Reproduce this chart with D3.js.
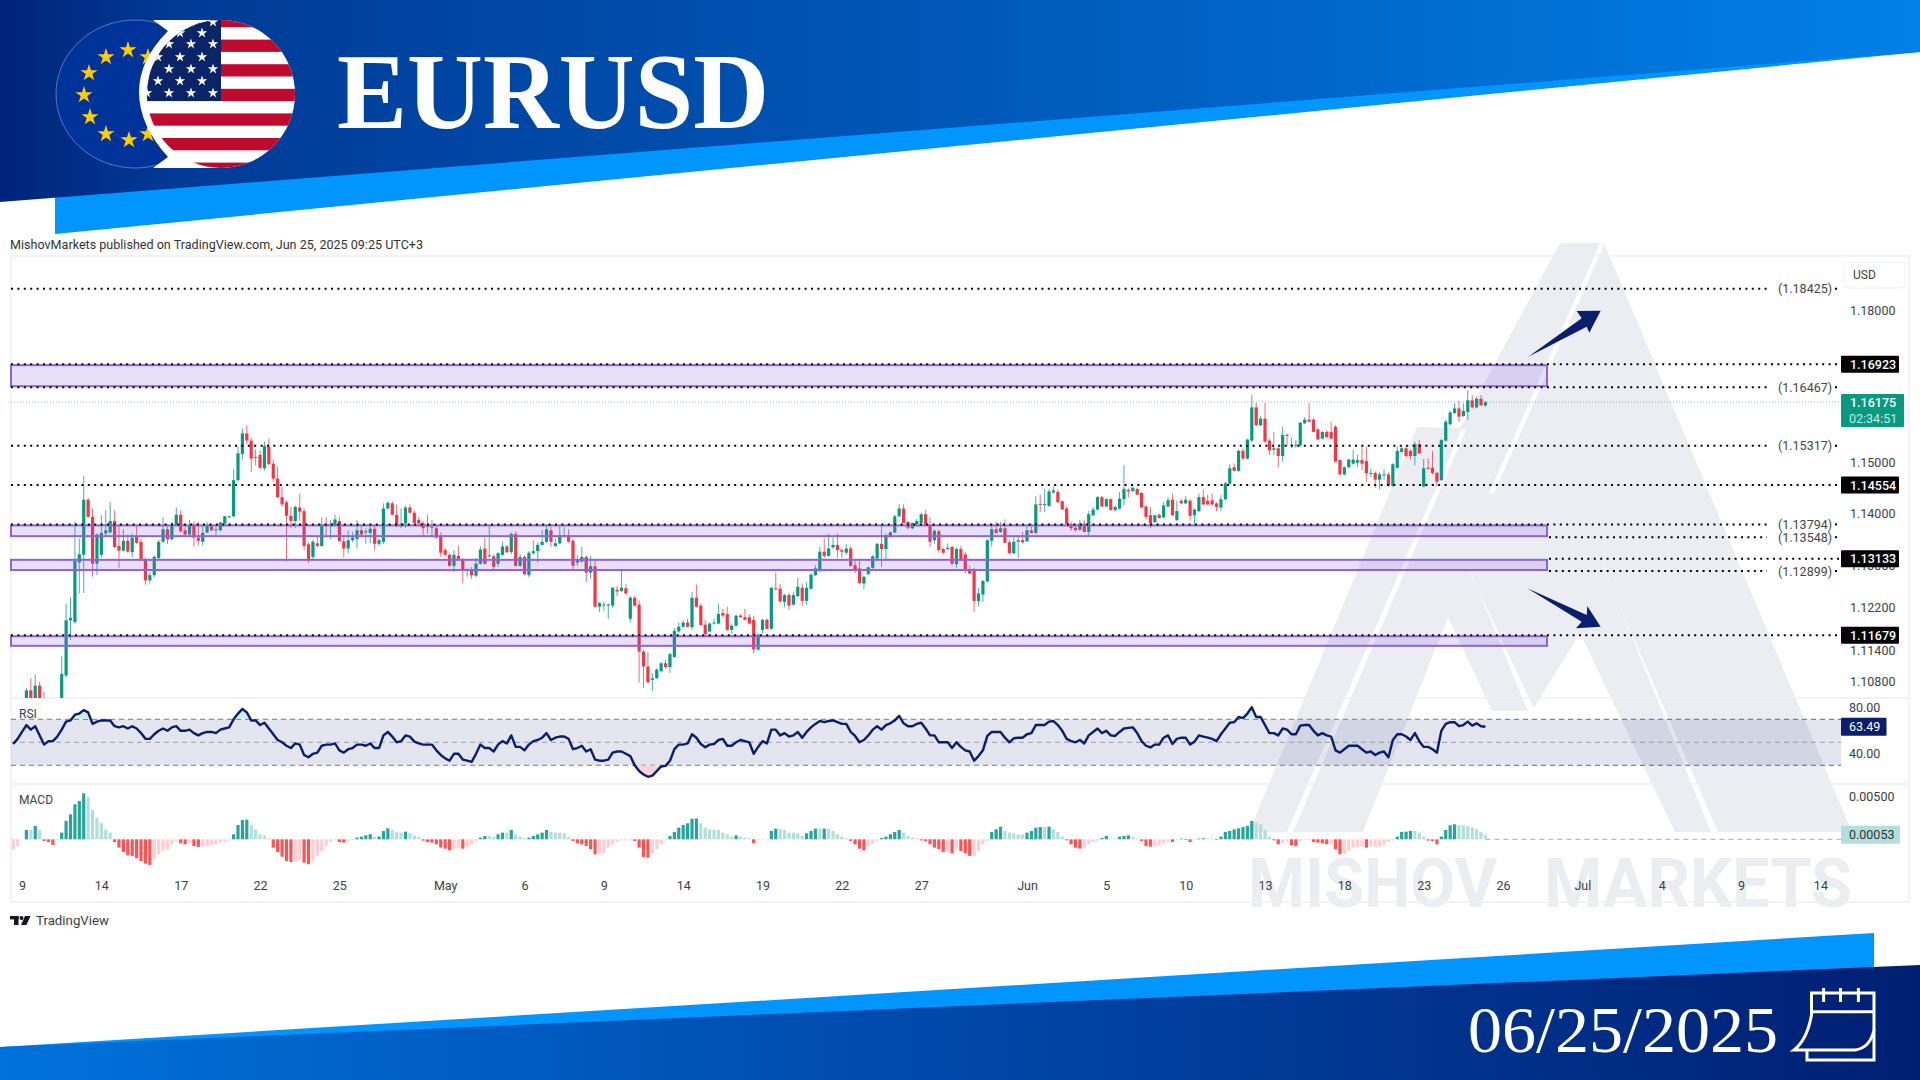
<!DOCTYPE html>
<html>
<head>
<meta charset="utf-8">
<style>
  body { margin: 0; background: #fff; }
  text { font-family: Roboto, sans-serif; }
  .serif { font-family: "Liberation Serif", serif; }
  .axis path, .axis line { display: none; }
  .axis text { font-family: Roboto, sans-serif; font-size: 12.5px; fill: #3a3d47; }
</style>
<script src="https://cdn.jsdelivr.net/npm/d3@7"></script>
</head>
<body>
<div id="visualization"></div>
<script>
// candle prices, in units of 0.0001
const opens = [
10990,10985,11005,11035,11064,11040,11073,11045,11010,11005,
11015,11030,11092,11196,11193,11306,11321,11427,11394,11304,
11321,11362,11364,11386,11338,11329,11348,11326,11356,11346,
11312,11272,11282,11315,11346,11370,11351,11378,11398,11368,
11360,11379,11354,11346,11364,11376,11368,11368,11381,11393,
11395,11465,11516,11556,11542,11508,11514,11488,11530,11497,
11468,11432,11422,11396,11386,11412,11405,11341,11317,11343,
11338,11380,11376,11378,11386,11347,11333,11349,11351,11368,
11364,11363,11371,11342,11346,11410,11420,11398,11376,11381,
11412,11402,11388,11382,11377,11373,11372,11356,11330,11321,
11300,11319,11311,11290,11290,11281,11304,11333,11318,11318,
11304,11321,11337,11326,11361,11300,11317,11282,11324,11328,
11340,11346,11368,11338,11343,11357,11359,11348,11306,11308,
11317,11287,11299,11222,11225,11225,11224,11254,11252,11257,
11199,11239,11226,11137,11109,11084,11087,11100,11115,11108,
11127,11175,11184,11192,11183,11239,11224,11188,11175,11191,
11190,11210,11208,11178,11186,11205,11202,11202,11197,11141,
11178,11197,11180,11257,11256,11231,11244,11226,11242,11258,
11233,11256,11282,11293,11327,11319,11335,11340,11330,11325,
11333,11301,11295,11266,11284,11296,11314,11342,11332,11356,
11364,11395,11410,11384,11372,11380,11382,11399,11378,11349,
11366,11332,11332,11336,11303,11332,11322,11293,11293,11233,
11245,11270,11348,11370,11365,11372,11345,11324,11346,11349,
11347,11368,11363,11419,11417,11415,11441,11442,11424,11410,
11380,11373,11369,11381,11365,11397,11408,11432,11414,11428,
11407,11410,11428,11446,11444,11448,11440,11414,11397,11384,
11398,11393,11414,11427,11388,11425,11420,11425,11397,11405,
11432,11425,11426,11420,11412,11428,11458,11490,11483,11522,
11507,11542,11607,11572,11585,11542,11524,11527,11512,11553,
11532,11532,11533,11576,11583,11583,11564,11546,11559,11559,
11569,11504,11476,11490,11497,11499,11504,11502,11477,11479,
11466,11474,11476,11454,11489,11520,11527,11522,11512,11535,
11453,11489,11489,11479,11465,11542,11574,11596,11605,11590,
11598,11621,11607,11624,11611];
const highs = [
11010,11015,11030,11068,11087,11094,11080,11061,11030,11025,
11040,11128,11228,11240,11384,11352,11473,11430,11410,11362,
11397,11407,11423,11407,11378,11370,11360,11362,11378,11352,
11316,11288,11320,11350,11393,11378,11384,11412,11407,11375,
11388,11385,11384,11378,11384,11380,11376,11384,11396,11396,
11486,11531,11566,11572,11548,11525,11523,11540,11546,11505,
11491,11453,11426,11413,11416,11439,11410,11345,11350,11357,
11393,11394,11388,11398,11394,11359,11368,11365,11388,11378,
11372,11378,11378,11352,11420,11424,11424,11418,11410,11415,
11418,11406,11394,11386,11397,11388,11376,11364,11334,11324,
11330,11339,11315,11295,11298,11314,11337,11354,11380,11322,
11326,11346,11340,11364,11366,11322,11320,11328,11349,11345,
11368,11380,11375,11352,11378,11375,11370,11352,11320,11336,
11320,11319,11314,11231,11232,11228,11260,11261,11293,11265,
11242,11242,11234,11140,11136,11097,11106,11118,11122,11135,
11182,11192,11196,11199,11250,11264,11228,11196,11192,11199,
11228,11218,11222,11188,11206,11208,11218,11208,11205,11172,
11199,11200,11260,11287,11265,11246,11248,11250,11277,11266,
11269,11286,11301,11336,11352,11362,11354,11362,11333,11342,
11337,11310,11309,11281,11298,11320,11344,11376,11362,11366,
11398,11418,11418,11386,11383,11390,11401,11407,11393,11370,
11370,11335,11343,11338,11335,11338,11326,11300,11296,11257,
11272,11351,11380,11384,11384,11389,11349,11356,11356,11365,
11380,11381,11434,11437,11448,11448,11453,11446,11426,11414,
11384,11376,11388,11388,11405,11413,11434,11434,11430,11430,
11416,11442,11494,11449,11455,11451,11442,11416,11413,11398,
11400,11423,11432,11439,11425,11429,11434,11429,11410,11439,
11447,11437,11439,11422,11436,11462,11496,11497,11525,11527,
11546,11631,11616,11590,11616,11546,11559,11530,11569,11556,
11548,11543,11579,11588,11616,11586,11566,11560,11562,11579,
11572,11506,11492,11506,11524,11514,11530,11530,11488,11482,
11480,11486,11480,11498,11531,11530,11532,11525,11540,11543,
11506,11507,11522,11481,11545,11582,11600,11615,11620,11615,
11641,11631,11628,11631,11620];
const lows = [
10975,10975,10995,11025,11030,11030,11035,11000,10995,10990,
11005,11025,11088,11159,11189,11247,11248,11392,11279,11282,
11315,11355,11362,11334,11296,11327,11325,11316,11342,11309,
11264,11266,11278,11312,11344,11342,11349,11376,11364,11356,
11358,11337,11339,11339,11362,11366,11359,11366,11380,11392,
11394,11462,11505,11535,11481,11494,11487,11484,11494,11462,
11430,11414,11308,11372,11372,11386,11330,11305,11312,11334,
11336,11359,11351,11376,11347,11316,11324,11345,11333,11358,
11342,11343,11331,11338,11342,11408,11396,11374,11372,11373,
11400,11380,11378,11356,11362,11354,11352,11317,11318,11298,
11288,11310,11266,11279,11275,11278,11302,11302,11315,11292,
11298,11319,11324,11322,11298,11298,11282,11278,11322,11306,
11338,11344,11337,11336,11341,11355,11344,11292,11300,11306,
11269,11275,11220,11212,11214,11199,11220,11242,11250,11245,
11192,11222,11079,11069,11079,11063,11085,11098,11105,11097,
11125,11173,11182,11183,11178,11220,11186,11165,11173,11188,
11188,11202,11176,11171,11184,11201,11196,11188,11133,11138,
11171,11180,11178,11253,11230,11221,11216,11224,11240,11223,
11225,11254,11280,11288,11315,11317,11333,11315,11315,11321,
11298,11286,11265,11255,11282,11294,11312,11298,11311,11354,
11362,11393,11382,11370,11370,11378,11380,11376,11336,11342,
11325,11322,11329,11301,11296,11310,11285,11284,11212,11223,
11231,11268,11337,11362,11363,11344,11322,11322,11315,11343,
11345,11362,11361,11403,11403,11413,11439,11422,11408,11380,
11367,11366,11367,11364,11356,11395,11406,11413,11412,11406,
11404,11408,11416,11431,11442,11436,11411,11389,11372,11382,
11390,11391,11412,11396,11385,11418,11418,11386,11375,11403,
11416,11416,11416,11405,11405,11426,11456,11482,11481,11505,
11505,11538,11570,11570,11538,11514,11514,11490,11501,11531,
11527,11527,11531,11574,11578,11558,11543,11544,11547,11544,
11500,11475,11474,11488,11495,11490,11484,11462,11471,11450,
11447,11466,11453,11452,11487,11518,11510,11505,11494,11516,
11451,11485,11476,11453,11463,11540,11572,11594,11579,11588,
11582,11605,11605,11610,11608];
const closes = [
10985,11005,11020,11064,11040,11073,11045,11010,11005,11015,
11030,11095,11196,11201,11309,11322,11427,11394,11304,11360,
11363,11368,11386,11336,11329,11348,11327,11354,11344,11311,
11272,11282,11317,11346,11370,11351,11378,11398,11366,11360,
11378,11354,11348,11363,11378,11368,11370,11383,11395,11395,
11465,11517,11556,11542,11507,11510,11489,11531,11496,11468,
11432,11418,11396,11386,11413,11404,11338,11312,11346,11338,
11379,11376,11380,11389,11347,11333,11349,11354,11368,11360,
11366,11371,11342,11349,11410,11421,11398,11376,11381,11412,
11402,11382,11381,11372,11375,11375,11354,11325,11321,11300,
11321,11312,11290,11292,11282,11304,11331,11304,11320,11298,
11324,11337,11326,11361,11300,11317,11284,11325,11328,11340,
11346,11370,11346,11343,11358,11358,11346,11300,11312,11317,
11287,11299,11222,11229,11226,11226,11258,11251,11258,11247,
11239,11224,11137,11109,11079,11087,11103,11115,11108,11132,
11176,11184,11192,11184,11239,11222,11187,11170,11190,11192,
11208,11205,11178,11186,11205,11202,11197,11190,11141,11169,
11197,11180,11258,11255,11232,11244,11224,11244,11260,11233,
11258,11283,11295,11327,11319,11333,11340,11330,11327,11333,
11300,11293,11267,11279,11297,11318,11342,11332,11359,11364,
11395,11410,11382,11373,11382,11386,11399,11378,11346,11367,
11330,11325,11334,11304,11332,11310,11290,11285,11233,11247,
11271,11349,11370,11363,11372,11344,11324,11346,11349,11345,
11368,11363,11418,11417,11419,11443,11445,11422,11408,11380,
11372,11368,11381,11365,11399,11408,11432,11414,11428,11407,
11413,11429,11448,11443,11450,11437,11412,11394,11381,11397,
11392,11416,11426,11397,11405,11420,11427,11396,11408,11432,
11418,11418,11418,11413,11428,11459,11488,11483,11522,11507,
11544,11607,11572,11585,11540,11523,11527,11512,11553,11551,
11534,11534,11577,11583,11579,11559,11544,11559,11549,11546,
11501,11476,11490,11505,11505,11504,11497,11478,11479,11466,
11476,11476,11454,11496,11522,11527,11512,11512,11535,11517,
11488,11487,11479,11462,11543,11579,11597,11605,11589,11600,
11621,11607,11624,11611,11617];

const rsi = [
48.5,53,59,65,61,64,56,48,51,51,
55,61,68,69,74,75,78,76,66,68,
69,69,69,64,63,64,62,64,62,58,
53,53,57,60,62,60,63,64,60,60,
61,58,56,58,59,59,58,61,62,63,
70,75,79,76,69,69,65,67,62,57,
52,50,47,45,49,48,39,37,40,41,
47,48,48,49,43,41,44,45,48,48,
47,49,45,45,56,59,55,50,51,56,
55,50.6,49,48,48,48,43,39,36,34,
40,40,35,34,33,40,48,45,45,42,
48,51,49,56,46,46,43,48,51,52,
54,58,52,54,55,55,53,44,45,47,
42,44,35,34,34,35,41,42,42,40,
38,30,25,22,20,21,25,29,29.5,34,
44,48,48,49,57,54,48.5,45.7,48,48.5,
52,53,47,47,50,52,51,50,40,46,
51,49,61,61,56,58,55,56,59,54,
59,63,66,68.5,67.5,68.5,69,67.5,66,66,
59,55.5,50,52,56,61,64,61,65,66.5,
69,73,66.5,64,64,66,67,62,56,56,
50,50,50,45,50,46,43,42,34,38,
43,55.5,59,59,59,54,50,53.5,54,54,
57,58,65,65,65,68,68.5,65,60,53,
51,50,52,49,56,59,62,58,60,56,
55.5,59,62,62.5,63,58,51,47,45.5,48,
48,54,56,48.5,53,54,54,48,50.5,56,
55,54,53,51,57,62,67,67.5,72,71,
75,80.5,72,72,65,58,58,56,62,61,
57,57,64.5,65,65,60,56,58,56,55,
43,41,44,47,47,47,44,41,42,39,
41,42,37,52,57,57,55,52,58,51,
46,46,44,41,60,66,67.5,67.5,64,65,
68,64.5,66.5,64,63.49];

// MACD histogram, in units of 0.00001
const macdHist = [
-115,-77,0,108,108,154,108,-19,-31,-65,
-12,77,212,288,404,442,531,492,338,250,
185,115,77,-31,-96,-146,-185,-192,-219,-250,
-281,-296,-231,-173,-135,-115,-58,-19,-46,-58,
-38,-77,-88,-85,-77,-69,-58,-38,-31,-15,
58,165,223,227,165,115,58,46,12,-96,
-146,-200,-250,-262,-258,-231,-269,-288,-250,-192,
-135,-77,-31,-12,-31,-38,-19,-8,19,31,
46,58,31,32,96,127,108,85,77,88,
69,46,27,-15,-31,-38,-58,-96,-108,-127,
-108,-96,-108,-85,-58,-19,19,38,38,27,
58,77,77,108,58,31,12,19,38,58,
77,108,85,77,77,69,31,-19,-46,-58,
-77,-115,-173,-173,-162,-96,-58,-31,-12,-12,
-12,-19,-96,-204,-212,-162,-115,-58,-12,38,
85,135,165,185,238,240,185,135,115,108,
108,77,58,31,46,31,19,12,-46,-8,
-8,-4,96,123,115,108,77,77,69,38,
69,96,123,123,124,123,96,58,31,12,
-19,-58,-108,-127,-77,-46,-19,15,31,58,
85,108,77,38,19,12,-12,-19,-58,-96,
-115,-146,-146,-162,-115,-135,-162,-192,-192,-135,
-58,-19,85,115,146,96,77,69,58,58,
77,96,135,142,142,146,115,85,31,-12,
-58,-96,-108,-96,-58,-31,-12,15,38,8,
8,31,38,46,31,8,-19,-77,-85,-85,
-69,-46,-19,-31,-8,8,-8,-31,-8,8,
12,8,8,-8,31,85,96,115,127,142,
154,212,192,173,108,31,-12,-58,-46,-19,
-69,-77,-19,-8,-8,-31,-38,-46,-58,-58,
-115,-173,-173,-135,-96,-85,-85,-96,-85,-85,
-85,-69,-31,-12,31,85,88,96,96,77,
31,-15,-19,-58,31,108,162,173,162,161,
154,135,115,85,53];

const dateTicks = [2,20,38,56,74,98,116,134,152,170,188,206,230,248,266,284,302,320,338,356,374,392,410];
const dateLabels = ["9","14","17","22","25","May","6","9","14","19","22","27","Jun","5","10","13","18","23","26","Jul","4","9","14"];
const priceTicks = [1.18,1.15,1.14,1.13,1.122,1.114,1.108];
const boxedLevels = [1.16923,1.14554,1.13133,1.11679];
const plainLevels = [1.18425,1.16467,1.15317,1.13794,1.13548,1.12899];
// these three levels only show to the right of their zone
const levelsFromZoneEnd = [1.13548,1.13133,1.12899];
const zoneTops = [1.16923,1.13794,1.13133,1.11679];
const zoneBottoms = [1.16467,1.13548,1.12899,1.1146];
const lastPrice = 1.16175;

const n = closes.length;
const bars = closes.map((c, i) => ({
  i, o: opens[i] / 1e4, h: highs[i] / 1e4, l: lows[i] / 1e4, c: c / 1e4
}));

const svg = d3.select("#visualization").append("svg")
  .attr("width", 1920).attr("height", 1080)
  .style("display", "block");
const defs = svg.append("defs");

const frame = {left: 11, right: 1909, top: 256, priceBottom: 698, rsiBottom: 784, bottom: 902, plotRight: 1841};
const x = d3.scaleLinear().domain([0, 410]).range([13.2, 1820.4]);
const y = d3.scaleLog().domain([1.18, 1.114]).range([310, 650]);
const yRsi = d3.scaleLinear().domain([70, 30]).range([719.3, 765.3]);
const yMacd = d3.scaleLinear().domain([0, 0.005]).range([839.3, 796]);

function gradient(id, stops) {
  const g = defs.append("linearGradient").attr("id", id)
    .attr("x1", "0").attr("x2", "1").attr("y1", "0").attr("y2", "0");
  stops.forEach(s => g.append("stop").attr("offset", s[0]).attr("stop-color", s[1]));
}
gradient("topBlue", [[0, "#00237a"], [0.09, "#003a96"], [0.5, "#0058b8"], [1, "#0080e8"]]);
gradient("bottomBlue", [[0, "#0072dc"], [0.6, "#003f9e"], [1, "#001f72"]]);

function poly(points, fill) {
  return svg.append("polygon").attr("points", points.map(p => p.join(",")).join(" ")).attr("fill", fill);
}

// banners
poly([[55,190],[1920,45],[1920,52],[55,234]], "#0095ff");
poly([[0,0],[1920,0],[1920,52],[0,202]], "url(#topBlue)");
poly([[0,1047],[1874,933],[1874,1000],[0,1060]], "#0095ff");
poly([[0,1047],[1920,965],[1920,1080],[0,1080]], "url(#bottomBlue)");

// flags
svg.append("ellipse").attr("cx", 135).attr("cy", 94).attr("rx", 79).attr("ry", 74)
  .attr("fill", "#003399").attr("stroke", "#8fa8d8").attr("stroke-width", 0.6);
const euStars = [[128,50],[106,57],[89,73],[84,95],[90,117],[106,134],[129,140],[148,134],[148,57]];
svg.selectAll(".eustar").data(euStars).join("path")
  .attr("d", d3.symbol(d3.symbolStar, 90))
  .attr("transform", d => `translate(${d[0]},${d[1]})`)
  .attr("fill", "#ffcc00");
svg.append("path").attr("d", "M153,20 H221 V168 H153 L168,157 Q139,125 139,92 Q139,60 168,31 Z").attr("fill", "#fff");
defs.append("clipPath").attr("id", "usClip").append("ellipse")
  .attr("cx", 221).attr("cy", 94).attr("rx", 74).attr("ry", 74);
const us = svg.append("g").attr("clip-path", "url(#usClip)");
us.append("rect").attr("x", 140).attr("y", 20).attr("width", 160).attr("height", 150).attr("fill", "#fff");
us.selectAll("rect.stripe").data(d3.range(7)).join("rect").attr("class", "stripe")
  .attr("x", 140).attr("width", 160).attr("height", 12.3)
  .attr("y", d => 15 + d * 24.6).attr("fill", "#bf0a30");
us.append("rect").attr("x", 140).attr("y", 15).attr("width", 81).attr("height", 86).attr("fill", "#0a2468");
const usStarRows = [22,33,44,57,69,81,93];
usStarRows.forEach((row, r) => {
  d3.range(4).forEach(c => {
    us.append("path").attr("d", d3.symbol(d3.symbolStar, 34))
      .attr("transform", `translate(${(r % 2 ? 202 : 213) - c * 22},${row})`).attr("fill", "#fff");
  });
});

svg.append("text").attr("class", "serif").attr("x", 337).attr("y", 128)
  .attr("textLength", 432).attr("lengthAdjust", "spacingAndGlyphs")
  .attr("font-size", 108).attr("font-weight", 700).attr("fill", "#fff").text("EURUSD");

svg.append("text").attr("class", "serif").attr("x", 1468).attr("y", 1052)
  .attr("textLength", 310).attr("lengthAdjust", "spacingAndGlyphs")
  .attr("font-size", 66).attr("fill", "#fff").text("06/25/2025");

// calendar icon
const cal = svg.append("g").attr("fill", "none").attr("stroke", "#fff").attr("stroke-width", 3);
cal.append("path").attr("d", "M1811.5,993 H1874 V1030 Q1870,1048 1855,1050 H1794 Q1807,1040 1811.5,1015 Z");
cal.append("path").attr("d", "M1807,1050 V1060 H1874 V1030");
cal.append("path").attr("d", "M1811.5,1011.7 H1874");
cal.append("path").attr("d", "M1823.6,988 V1002 M1840.5,988 V1002 M1858.4,988 V1002");

svg.append("text").attr("x", 10).attr("y", 249).attr("font-size", 13)
  .attr("textLength", 413).attr("lengthAdjust", "spacingAndGlyphs").attr("fill", "#333")
  .text("MishovMarkets published on TradingView.com, Jun 25, 2025 09:25 UTC+3");

// watermark
const wmColor = "#ebedf2";
poly([[1417,427],[1460,428],[1560,243],[1604,243],[1852,832],[1675,832],[1580,633],[1532,711],[1492,711],[1448,617],[1363,832],[1249,832]], wmColor);
poly([[1462,428],[1466,430],[1293,832],[1287,832]], "#fff");
poly([[1600,243],[1604,245],[1494,493],[1489,493]], "#fff");
poly([[1468,565],[1470,572],[1535,711],[1528,711]], "#fff");
poly([[1602,563],[1604,570],[1718,832],[1711,832]], "#fff");
svg.append("text").attr("x", 1248).attr("y", 907).attr("font-size", 68).attr("font-weight", 700)
  .attr("textLength", 249).attr("lengthAdjust", "spacingAndGlyphs").attr("fill", wmColor).text("MISHOV");
svg.append("text").attr("x", 1544).attr("y", 907).attr("font-size", 68).attr("font-weight", 700)
  .attr("textLength", 308).attr("lengthAdjust", "spacingAndGlyphs").attr("fill", wmColor).text("MARKETS");

// chart frame
const frameColor = "#eeeff2";
svg.append("rect").attr("x", frame.left).attr("y", frame.top)
  .attr("width", frame.right - frame.left).attr("height", frame.bottom - frame.top)
  .attr("fill", "none").attr("stroke", frameColor).attr("stroke-width", 1.5);
[frame.priceBottom, frame.rsiBottom].forEach(v => svg.append("line")
  .attr("x1", frame.left).attr("x2", frame.right).attr("y1", v).attr("y2", v)
  .attr("stroke", frameColor).attr("stroke-width", 1.5));

// price pane
defs.append("clipPath").attr("id", "priceClip").append("rect")
  .attr("x", frame.left).attr("y", frame.top)
  .attr("width", frame.plotRight - frame.left).attr("height", frame.priceBottom - frame.top);
const up = "#089981", down = "#f23645";
const price = svg.append("g").attr("clip-path", "url(#priceClip)");
price.selectAll("line.wick").data(bars).join("line").attr("class", "wick")
  .attr("x1", d => x(d.i)).attr("x2", d => x(d.i))
  .attr("y1", d => y(d.h)).attr("y2", d => y(d.l))
  .attr("stroke", d => d.c >= d.o ? up : down).attr("stroke-width", 1).attr("stroke-opacity", 0.75);
price.selectAll("rect.body").data(bars).join("rect").attr("class", "body")
  .attr("x", d => x(d.i) - 1.6).attr("width", 3.2)
  .attr("y", d => y(Math.max(d.o, d.c)))
  .attr("height", d => Math.max(1, Math.abs(y(d.o) - y(d.c))))
  .attr("fill", d => d.c >= d.o ? up : down);

// last price line
svg.append("line").attr("x1", frame.left).attr("x2", frame.plotRight)
  .attr("y1", y(lastPrice)).attr("y2", y(lastPrice))
  .attr("stroke", up).attr("stroke-opacity", 0.55).attr("stroke-width", 1).attr("stroke-dasharray", "1 2");

// zones
const zoneRight = 1547;
svg.selectAll("rect.zone").data(zoneTops).join("rect").attr("class", "zone")
  .attr("x", frame.left).attr("width", zoneRight - frame.left)
  .attr("y", d => y(d) + 1).attr("height", (d, i) => y(zoneBottoms[i]) - y(d) - 2)
  .attr("fill", "rgb(130,80,220)").attr("fill-opacity", 0.18)
  .attr("stroke", "#8f63d4").attr("stroke-width", 2);

// level lines
const dotted = sel => sel.attr("stroke", "#000").attr("stroke-width", 2).attr("stroke-dasharray", "2 4.4");
const levelStart = d => levelsFromZoneEnd.includes(d) ? zoneRight + 2 : frame.left;
svg.selectAll("line.boxed").data(boxedLevels).join("line").attr("class", "boxed")
  .attr("x1", levelStart).attr("x2", frame.plotRight)
  .attr("y1", d => y(d)).attr("y2", d => y(d)).call(dotted);
svg.selectAll("line.plain").data(plainLevels).join("line").attr("class", "plain")
  .attr("x1", levelStart).attr("x2", 1767)
  .attr("y1", d => y(d)).attr("y2", d => y(d)).call(dotted);
svg.selectAll("rect.plaindot").data(plainLevels).join("rect").attr("class", "plaindot")
  .attr("x", 1835).attr("width", 2).attr("height", 2).attr("y", d => y(d) - 1).attr("fill", "#000");
svg.selectAll("text.plainlabel").data(plainLevels).join("text").attr("class", "plainlabel")
  .attr("x", 1778).attr("y", d => y(d)).attr("dy", "0.36em")
  .attr("font-size", 12.5).attr("fill", "#444").text(d => "(" + d.toFixed(5) + ")");

// arrows
const navy = "#0a1f6b";
poly([[1528.3,356.7],[1581.7,318.3],[1576.7,311],[1600.7,310.7],[1589.3,332.7],[1586.7,326.7]], navy);
poly([[1527.3,588.3],[1586.7,615],[1587.3,606],[1600.7,626.7],[1576,628.3],[1581.7,621.7]], navy);

// price axis
svg.append("g").attr("class", "axis").attr("transform", "translate(1850,0)")
  .call(d3.axisRight(y).tickValues(priceTicks).tickSize(0).tickPadding(0).tickFormat(d3.format(".5f")));

// boxes on the price axis
svg.selectAll("rect.levelbox").data(boxedLevels).join("rect").attr("class", "levelbox")
  .attr("x", frame.plotRight).attr("width", 58).attr("height", 17).attr("rx", 1)
  .attr("y", d => y(d) - 8.5).attr("fill", "#000");
svg.selectAll("text.levelbox").data(boxedLevels).join("text").attr("class", "levelbox")
  .attr("x", 1850).attr("y", d => y(d)).attr("dy", "0.36em")
  .attr("font-size", 12.5).attr("font-weight", 500).attr("fill", "#fff").text(d => d.toFixed(5));
svg.append("rect").attr("x", frame.plotRight).attr("y", 394).attr("width", 63).attr("height", 33).attr("rx", 1).attr("fill", up);
svg.append("text").attr("x", 1850).attr("y", y(lastPrice)).attr("dy", "0.36em")
  .attr("font-size", 12.5).attr("font-weight", 500).attr("fill", "#fff").text(lastPrice.toFixed(5));
svg.append("text").attr("x", 1849).attr("y", 418).attr("dy", "0.36em")
  .attr("font-size", 12.5).attr("fill", "#c5eae2").text("02:34:51");
svg.append("rect").attr("x", 1844).attr("y", 262).attr("width", 61).attr("height", 26).attr("rx", 4)
  .attr("fill", "#fff").attr("stroke", "#f0f1f4");
svg.append("text").attr("x", 1853).attr("y", 275).attr("dy", "0.36em")
  .attr("font-size", 12).attr("fill", "#3a3d47").text("USD");

// RSI pane
svg.append("rect").attr("x", frame.left).attr("width", frame.plotRight - frame.left)
  .attr("y", yRsi(70)).attr("height", yRsi(30) - yRsi(70))
  .attr("fill", "rgb(33,40,120)").attr("fill-opacity", 0.12);
[70, 50, 30].forEach(v => svg.append("line")
  .attr("x1", frame.left).attr("x2", frame.plotRight).attr("y1", yRsi(v)).attr("y2", yRsi(v))
  .attr("stroke", v === 50 ? "#9a9ca6" : "#666a75").attr("stroke-width", 1).attr("stroke-dasharray", "5 4"));

defs.append("clipPath").attr("id", "overClip").append("rect")
  .attr("x", frame.left).attr("y", frame.priceBottom).attr("width", 1830).attr("height", yRsi(70) - frame.priceBottom);
defs.append("clipPath").attr("id", "underClip").append("rect")
  .attr("x", frame.left).attr("y", yRsi(30)).attr("width", 1830).attr("height", frame.rsiBottom - yRsi(30));
const rsiX = (d, i) => x(i);
svg.append("path").datum(rsi).attr("clip-path", "url(#overClip)").attr("fill", "#cfeee6")
  .attr("d", d3.area().x(rsiX).y0(yRsi(70)).y1(d => yRsi(d)));
svg.append("path").datum(rsi).attr("clip-path", "url(#underClip)").attr("fill", "#fbd5da")
  .attr("d", d3.area().x(rsiX).y0(yRsi(30)).y1(d => yRsi(d)));
svg.append("path").datum(rsi).attr("fill", "none").attr("stroke", navy).attr("stroke-width", 2.4)
  .attr("stroke-linejoin", "round")
  .attr("d", d3.line().x(rsiX).y(d => yRsi(d)));

svg.append("g").attr("class", "axis").attr("transform", "translate(1849,0)")
  .call(d3.axisRight(yRsi).tickValues([80, 40]).tickSize(0).tickPadding(0).tickFormat(d3.format(".2f")));
svg.append("rect").attr("x", frame.plotRight).attr("width", 45.5).attr("height", 18)
  .attr("y", yRsi(rsi[n - 1]) - 9).attr("rx", 1).attr("fill", navy);
svg.append("text").attr("x", 1849).attr("y", yRsi(rsi[n - 1])).attr("dy", "0.36em")
  .attr("font-size", 12.5).attr("fill", "#fff").text(rsi[n - 1].toFixed(2));
svg.append("text").attr("x", 19).attr("y", 718).attr("font-size", 12).attr("fill", "#3a3d47").text("RSI");

// MACD pane
svg.append("line").attr("x1", x(n - 1)).attr("x2", frame.plotRight)
  .attr("y1", yMacd(0)).attr("y2", yMacd(0))
  .attr("stroke", "#a8abb3").attr("stroke-width", 1).attr("stroke-dasharray", "5 4");
const histColor = (v, i) => {
  const prev = i ? macdHist[i - 1] : v;
  if (v >= 0) return v > prev ? "#26a69a" : "#b2dfdb";
  return v < prev ? "#ff5252" : "#ffcdd2";
};
svg.selectAll("rect.hist").data(macdHist).join("rect").attr("class", "hist")
  .attr("x", (d, i) => x(i) - 1.6).attr("width", 3.2)
  .attr("y", d => yMacd(Math.max(0, d / 1e5)))
  .attr("height", d => Math.abs(yMacd(d / 1e5) - yMacd(0)))
  .attr("fill", histColor);
svg.append("g").attr("class", "axis").attr("transform", "translate(1849,0)")
  .call(d3.axisRight(yMacd).tickValues([0.005]).tickSize(0).tickPadding(0).tickFormat(d3.format(".5f")));
const lastMacd = macdHist[n - 1] / 1e5;
svg.append("rect").attr("x", frame.plotRight).attr("width", 59).attr("height", 18)
  .attr("y", yMacd(lastMacd) - 9).attr("rx", 1).attr("fill", "#b2dfdb");
svg.append("text").attr("x", 1849).attr("y", yMacd(lastMacd)).attr("dy", "0.36em")
  .attr("font-size", 12.5).attr("fill", "#333").text(lastMacd.toFixed(5));
svg.append("text").attr("x", 19).attr("y", 804).attr("font-size", 12).attr("fill", "#3a3d47").text("MACD");

// time axis
svg.append("g").attr("class", "axis").attr("transform", "translate(0,875)")
  .call(d3.axisBottom(x).tickValues(dateTicks).tickSize(0).tickPadding(6)
    .tickFormat((d, i) => dateLabels[i]));

// TradingView mark
const tv = svg.append("g").attr("fill", "#131722");
tv.append("rect").attr("x", 10).attr("y", 916).attr("width", 8.5).attr("height", 3.4);
tv.append("rect").attr("x", 14).attr("y", 916).attr("width", 4.5).attr("height", 9);
tv.append("circle").attr("cx", 21.5).attr("cy", 918).attr("r", 2);
tv.append("polygon").attr("points", "25,916 30.5,916 26.5,925 21,925");
svg.append("text").attr("x", 36).attr("y", 925).attr("font-size", 13.5)
  .attr("textLength", 73).attr("lengthAdjust", "spacingAndGlyphs").attr("fill", "#3a3d47").text("TradingView");
</script>
</body>
</html>
